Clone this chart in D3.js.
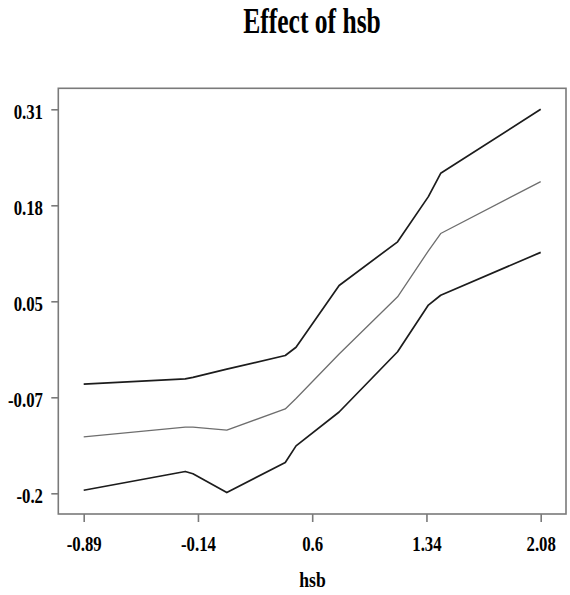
<!DOCTYPE html>
<html>
<head>
<meta charset="utf-8">
<script src="https://cdn.jsdelivr.net/npm/d3@7"></script>
<style>
  html, body { margin: 0; padding: 0; background: #fff; }
  svg { display: block; }
  text { font-family: "Liberation Serif", "Times New Roman", serif; font-weight: bold; fill: #000; }
</style>
</head>
<body>
<svg id="chart" width="570" height="595"></svg>
<script>
// ---- data ----
const hsb = [-0.89, -0.23, -0.18, 0.04, 0.42, 0.49, 0.77, 1.15, 1.35, 1.43, 2.08];
const upper = [-0.055, -0.048, -0.046, -0.035, -0.017, -0.006, 0.076, 0.134, 0.194, 0.225, 0.31];
const fit   = [-0.125, -0.112, -0.112, -0.116, -0.088, -0.074, -0.015, 0.061, 0.122, 0.145, 0.214];
const lower = [-0.196, -0.171, -0.174, -0.199, -0.159, -0.137, -0.092, -0.012, 0.050, 0.063, 0.120];

const xTickValues = [-0.89, -0.1475, 0.595, 1.3375, 2.08];
const xTickLabels = ["-0.89", "-0.14", "0.6", "1.34", "2.08"];
const yTickValues = [-0.2, -0.0725, 0.055, 0.1825, 0.31];
const yTickLabels = ["-0.2", "-0.07", "0.05", "0.18", "0.31"];

const titleText = "Effect of hsb";
const xLabelText = "hsb";

// ---- layout ----
const svg = d3.select("#chart");
const box = { left: 58.3, right: 566, top: 88.3, bottom: 514 };

const x = d3.scaleLinear().domain([-0.89, 2.08]).range([83.7, 540.7]);
const y = d3.scaleLinear().domain([-0.2, 0.31]).range([493.3, 109.3]);

const frameColor = "#7a7a7a";
const sx = 0.84;

// frame
svg.append("rect")
  .attr("x", box.left).attr("y", box.top)
  .attr("width", box.right - box.left).attr("height", box.bottom - box.top)
  .attr("fill", "none").attr("stroke", frameColor).attr("stroke-width", 1.6);

// x axis
const xAxis = svg.append("g")
  .attr("transform", `translate(0,${box.bottom})`)
  .call(d3.axisBottom(x).tickValues(xTickValues)
    .tickFormat((d, i) => xTickLabels[i]).tickSize(8).tickSizeOuter(0));
xAxis.select(".domain").remove();
xAxis.selectAll(".tick line").attr("stroke", frameColor).attr("stroke-width", 1.6);
xAxis.selectAll(".tick text")
  .attr("y", 36.7).attr("dy", null)
  .attr("transform", `scale(${sx},1)`)
  .style("font-size", "20px");

// y axis
const yAxis = svg.append("g")
  .attr("transform", `translate(${box.left},0)`)
  .call(d3.axisLeft(y).tickValues(yTickValues)
    .tickFormat((d, i) => yTickLabels[i]).tickSize(7).tickSizeOuter(0));
yAxis.select(".domain").remove();
yAxis.selectAll(".tick line").attr("stroke", frameColor).attr("stroke-width", 1.6);
yAxis.selectAll(".tick text")
  .attr("x", -15.3 / sx).attr("dy", null).attr("y", 9)
  .attr("transform", `scale(${sx},1)`)
  .style("font-size", "20px");

// lines
const line = d3.line().x(d => x(d[0])).y(d => y(d[1]));
const series = [
  { vals: upper, color: "#1c1c1c", w: 1.7 },
  { vals: fit,   color: "#6e6e6e", w: 1.3 },
  { vals: lower, color: "#1c1c1c", w: 1.7 }
];
series.forEach(s => {
  svg.append("path")
    .datum(hsb.map((h, i) => [h, s.vals[i]]))
    .attr("d", line)
    .attr("fill", "none")
    .attr("stroke", s.color)
    .attr("stroke-width", s.w)
    .attr("stroke-linejoin", "round");
});

// title
svg.append("text")
  .attr("transform", `translate(312,33.3) scale(0.73,1)`)
  .attr("text-anchor", "middle")
  .style("font-size", "35px")
  .text(titleText);

// x label
svg.append("text")
  .attr("transform", `translate(312.5,587.3) scale(${sx},1)`)
  .attr("text-anchor", "middle")
  .style("font-size", "21px")
  .text(xLabelText);
</script>
</body>
</html>
